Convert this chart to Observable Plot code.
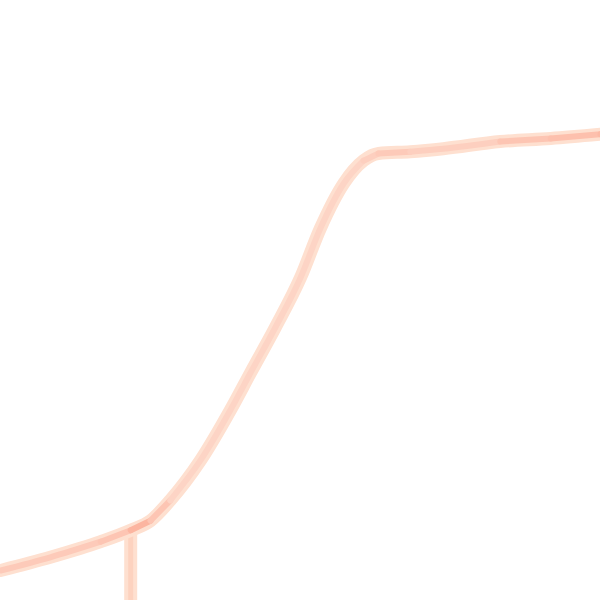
<!DOCTYPE html>
<html>
<head>
<meta charset="utf-8">
<script src="https://cdn.jsdelivr.net/npm/d3@7"></script>
<script src="https://cdn.jsdelivr.net/npm/@observablehq/plot@0.6"></script>
<style>
  html, body { margin: 0; padding: 0; background: #fff; }
  #chart svg { display: block; }
</style>
</head>
<body>
<div id="chart"></div>
<script>
// Curve (x and y on a 0–100 scale)
const xs = [0, 8.3, 16.7, 21.7, 25, 28.3, 33.3, 38.3, 41.7, 45.8, 50, 53.3, 57.2, 60.5, 63, 68.3, 73.8, 83.3, 91.7, 100];
const ys = [5, 7.2, 9.8, 11.7, 13.3, 16.7, 23.3, 31.7, 38, 45.5, 53.8, 62, 69.5, 73.3, 74.5, 74.8, 75.3, 76.5, 77, 77.7];
const density = [0.5, 0.5, 0.6, 0.9, 0.6, 0.3, 0.3, 0.3, 0.3, 0.3, 0.3, 0.3, 0.3, 0.4, 0.5, 0.4, 0.4, 0.6, 0.7, 0.8];
// Vertical stem below the kink
const stemX = [21.7, 21.7];
const stemY = [11.7, 0];
const stemDensity = [0.5, 0.2];

const curve = xs.map((x, i) => ({x, y: ys[i], d: density[i]}));
const stem = stemX.map((x, i) => ({x, y: stemY[i], d: stemDensity[i]}));

const chart = Plot.plot({
  width: 600,
  height: 600,
  margin: 0,
  x: {domain: [0, 100], axis: null},
  y: {domain: [0, 100], axis: null},
  color: {type: "linear", domain: [0, 1], range: ["#fee4d8", "#fcb09a"]},
  marks: [
    Plot.line(stem, {x: "x", y: "y", stroke: "#fee0d0", strokeWidth: 13, strokeLinecap: "butt"}),
    Plot.line(stem, {x: "x", y: "y", stroke: "#fdd2bf", strokeWidth: 5, strokeLinecap: "butt"}),
    Plot.line(curve, {x: "x", y: "y", stroke: "#fee0d0", strokeWidth: 13, curve: "monotone-x"}),
    Plot.line(curve, {x: "x", y: "y", z: null, stroke: "d", strokeWidth: 6, curve: "monotone-x"})
  ]
});
document.getElementById("chart").append(chart);
</script>
</body>
</html>
